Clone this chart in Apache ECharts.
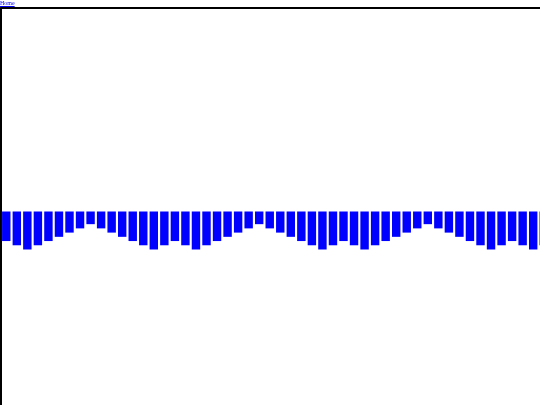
<!DOCTYPE html>
<html>
<head>
<meta charset="utf-8">
<script src="https://cdn.jsdelivr.net/npm/echarts@6/dist/echarts.min.js"></script>
<style>
  html, body { margin: 0; padding: 0; width: 540px; height: 405px; overflow: hidden; background: #fff; }
  #home { position: absolute; left: 0; top: 0; font-family: "Liberation Serif", "DejaVu Serif", serif; font-size: 6px; line-height: 7px; color: #0000EE; text-decoration: underline; z-index: 2; }
  #c { position: absolute; left: 0; top: 0; width: 549px; height: 420px; }
</style>
</head>
<body>
<a id="home" href="#">Home</a>
<div id="c"></div>
<script>
// Data
var categories = ["1","2","3","4","5","6","7","8","9","10","11","12","13","14","15","16","17","18","19","20",
  "21","22","23","24","25","26","27","28","29","30","31","32","33","34","35","36","37","38","39","40",
  "41","42","43","44","45","46","47","48","49","50","51","52"];
var values = [-7,-8,-9,-8,-7,-6,-5,-4,-3,-4,-5,-6,-7,-8,-9,-8,-7,-8,-9,-8,
  -7,-6,-5,-4,-3,-4,-5,-6,-7,-8,-9,-8,-7,-8,-9,-8,-7,-6,-5,-4,
  -3,-4,-5,-6,-7,-8,-9,-8,-7,-8,-9,-8];
var yMin = -48.2;
var yMax = 48.2;

var chart = echarts.init(document.getElementById('c'), null, { renderer: 'canvas' });
chart.setOption({
  animation: false,
  backgroundColor: 'transparent',
  grid: { left: 1, top: 8, width: 548, height: 407, containLabel: false },
  xAxis: {
    type: 'category',
    data: categories,
    position: 'top',
    axisLine: { show: true, onZero: false, lineStyle: { color: '#000', width: 2 } },
    axisTick: { show: false },
    axisLabel: { show: false },
    splitLine: { show: false }
  },
  yAxis: {
    type: 'value',
    min: yMin,
    max: yMax,
    axisLine: { show: true, lineStyle: { color: '#000', width: 2 } },
    axisTick: { show: false },
    axisLabel: { show: false },
    splitLine: { show: false }
  },
  series: [{
    type: 'bar',
    data: values,
    barCategoryGap: '20%',
    itemStyle: { color: '#0000ff' }
  }]
});
</script>
</body>
</html>
